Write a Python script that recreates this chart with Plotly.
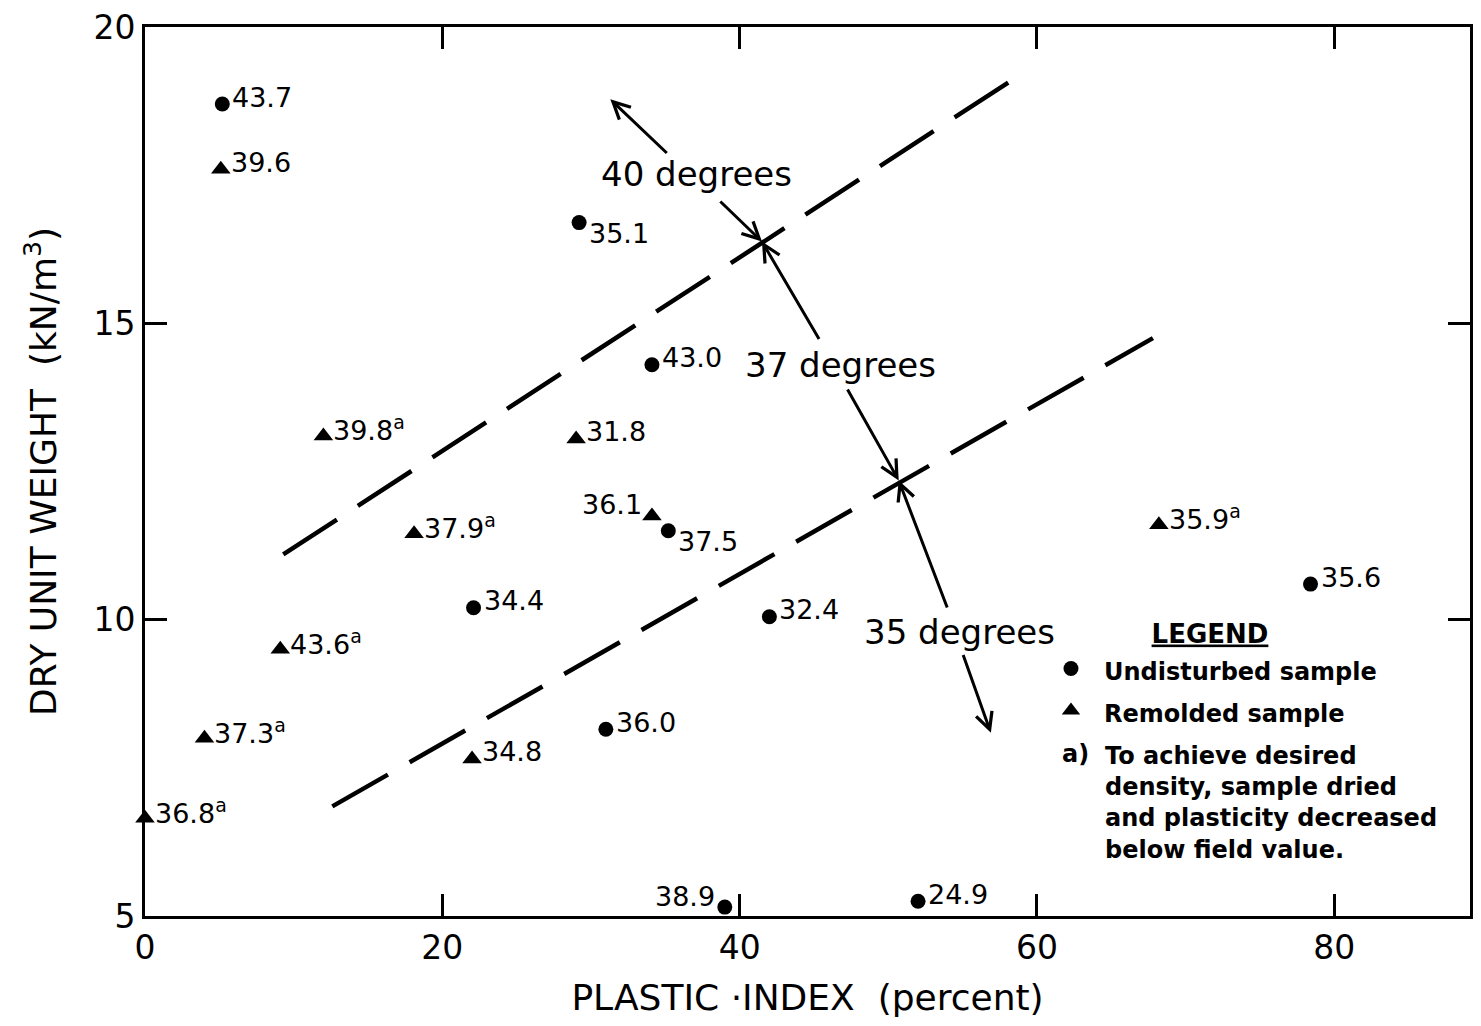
import plotly.graph_objects as go

# ---------------- data ----------------
# Undisturbed samples: plastic index (%), dry unit weight (kN/m3), friction angle label
und_pi = [5.2, 29.2, 34.1, 35.2, 22.1, 42.0, 31.0, 39.0, 52.0, 78.4]
und_gd = [18.7, 16.7, 14.3, 11.5, 10.2, 10.05, 8.15, 5.15, 5.25, 10.6]
und_phi = ["43.7", "35.1", "43.0", "37.5", "34.4", "32.4", "36.0", "38.9", "24.9", "35.6"]
und_dried = [False] * 10

# Remolded samples
rem_pi = [5.1, 12.0, 29.0, 34.1, 18.1, 9.1, 4.0, 22.0, 0.0, 68.2]
rem_gd = [17.6, 13.1, 13.05, 11.75, 11.45, 9.5, 8.0, 7.65, 6.65, 11.6]
rem_phi = ["39.6", "39.8", "31.8", "36.1", "37.9", "43.6", "37.3", "34.8", "36.8", "35.9"]
rem_dried = [False, True, False, False, True, True, True, False, True, True]

# Boundary lines between friction-angle zones
upper_pi = [9.3, 58.6]
upper_gd = [11.1, 19.15]
lower_pi = [12.6, 67.8]
lower_gd = [6.85, 14.75]

# Zone labels and arrows (tail -> head)
zone_text = ["40 degrees", "37 degrees", "35 degrees"]
zone_pi = [37.1, 46.8, 54.8]
zone_gd = [17.52, 14.3, 9.8]
arrow_tail_pi = [35.2, 38.6, 45.4, 47.2, 54.0, 55.0]
arrow_tail_gd = [17.85, 17.08, 14.71, 13.91, 10.18, 9.43]
arrow_head_pi = [31.3, 41.5, 41.5, 50.7, 50.7, 56.9]
arrow_head_gd = [18.78, 16.38, 16.38, 12.35, 12.35, 8.09]

x_ticks = [0, 20, 40, 60, 80]
y_ticks = [5, 10, 15, 20]

# label placement styles
und_lab_pos = ["r", "rl", "r", "rl", "r", "r", "r", "lu", "r", "r"]
rem_lab_pos = ["r", "r", "r", "lu", "r", "r", "r", "r", "r", "r"]

FONT = "DejaVu Sans"
BLACK = "black"

# page geometry (the page body has an 8px margin)
PL, PT, PW, PH = 145, 22, 1328, 894   # plot area on the page
def px(xp):
    return (xp - PL) / PW
def py(yp):
    return (PT + PH - yp) / PH

fig = go.Figure()

for xs, ys in [(upper_pi, upper_gd), (lower_pi, lower_gd)]:
    fig.add_trace(go.Scatter(
        x=xs, y=ys, mode="lines", showlegend=False, hoverinfo="skip",
        line=dict(color=BLACK, width=4.5, dash="64px,25px"),
    ))

fig.add_trace(go.Scatter(
    x=und_pi, y=und_gd, mode="markers",
    name='<span style="font-size:24px">Undisturbed sample</span>',
    marker=dict(symbol="circle", size=15, color=BLACK),
    cliponaxis=False,
))
fig.add_trace(go.Scatter(
    x=rem_pi, y=rem_gd, mode="markers",
    name='<span style="font-size:24px">Remolded sample</span>',
    marker=dict(symbol="triangle-up", size=17, color=BLACK),
    cliponaxis=False,
))

pos_style = {
    "r": dict(xanchor="left", xshift=8, yshift=7),
    "rl": dict(xanchor="left", xshift=8, yshift=-11),
    "lu": dict(xanchor="right", xshift=-8, yshift=11),
}

annotations = []
for xs, ys, labs, dried, poss in [
    (und_pi, und_gd, und_phi, und_dried, und_lab_pos),
    (rem_pi, rem_gd, rem_phi, rem_dried, rem_lab_pos),
]:
    for x, y, lab, d, p in zip(xs, ys, labs, dried, poss):
        txt = lab + ("<sup>a</sup>" if d else "")
        annotations.append(dict(
            x=x, y=y, xref="x", yref="y", text=txt, showarrow=False,
            yanchor="middle", font=dict(family=FONT, size=27, color=BLACK),
            **pos_style[p],
        ))

for t, x, y in zip(zone_text, zone_pi, zone_gd):
    annotations.append(dict(
        x=x, y=y, xref="x", yref="y", text=t, showarrow=False,
        font=dict(family=FONT, size=34, color=BLACK),
        xanchor="center", yanchor="middle",
    ))

for tx, ty, hx, hy in zip(arrow_tail_pi, arrow_tail_gd, arrow_head_pi, arrow_head_gd):
    annotations.append(dict(
        x=hx, y=hy, ax=tx, ay=ty, xref="x", yref="y", axref="x", ayref="y",
        text="", showarrow=True, arrowhead=5, arrowsize=1.1, arrowwidth=3,
        arrowcolor=BLACK, standoff=0, startstandoff=0,
    ))

# legend footnote
annotations.append(dict(
    x=px(1062), y=py(753), xref="paper", yref="paper",
    text="<b>a)</b>", showarrow=False, xanchor="left", yanchor="middle",
    font=dict(family=FONT, size=24, color=BLACK),
))
annotations.append(dict(
    x=px(1105), y=py(739), xref="paper", yref="paper",
    text="<b>To achieve desired<br>density, sample dried<br>and plasticity decreased<br>below field value.</b>",
    showarrow=False, xanchor="left", yanchor="top", align="left",
    font=dict(family=FONT, size=24, color=BLACK),
))

axis_common = dict(
    showline=True, linecolor=BLACK, linewidth=3, mirror="ticks",
    ticks="inside", ticklen=22, tickwidth=3, tickcolor=BLACK,
    showgrid=False, zeroline=False, ticklabeloverflow="allow",
    tickfont=dict(family=FONT, size=33, color=BLACK),
)

fig.update_layout(
    width=1465, height=1010,
    margin=dict(l=PL - 8, r=0, t=PT - 8, b=1010 - (PT - 8) - PH),
    paper_bgcolor="white", plot_bgcolor="white",
    font=dict(family=FONT, color=BLACK),
    xaxis=dict(
        range=[0, PW / 14.9], tickvals=x_ticks, ticklabelstandoff=0,
        title=dict(text="PLASTIC ·INDEX  (percent)", standoff=26,
                   font=dict(family=FONT, size=36, color=BLACK)),
        **axis_common,
    ),
    yaxis=dict(
        range=[5, 20], tickvals=y_ticks, ticklabelstandoff=0,
        title=dict(text="DRY UNIT WEIGHT  (kN/m<sup>3</sup>)", standoff=26,
                   font=dict(family=FONT, size=36, color=BLACK)),
        **axis_common,
    ),
    showlegend=True,
    legend=dict(
        x=px(1040), y=py(607), xanchor="left", yanchor="top",
        bgcolor="rgba(0,0,0,0)", borderwidth=0, itemwidth=56,
        font=dict(family=FONT, size=30, color=BLACK, weight="bold"),
        title=dict(text="<u>LEGEND</u>", side="top center",
                   font=dict(family=FONT, size=26, color=BLACK, weight="bold")),
        itemclick=False, itemdoubleclick=False,
    ),
    annotations=annotations,
)

fig.write_html("out.html")
